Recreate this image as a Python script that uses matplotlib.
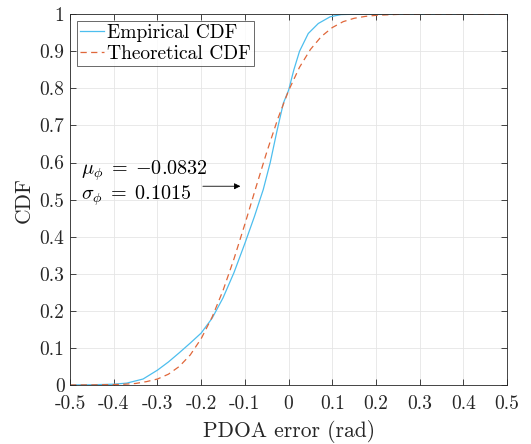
import numpy as np
import matplotlib
matplotlib.use("Agg")
import matplotlib.pyplot as plt

plt.rcParams['font.family'] = 'serif'
plt.rcParams['font.serif'] = ['cmr10']
plt.rcParams['mathtext.fontset'] = 'cm'
plt.rcParams['axes.unicode_minus'] = False
plt.rcParams['axes.formatter.use_mathtext'] = True

# empirical CDF
emp_x = [-0.5, -0.45, -0.4, -0.37, -0.333, -0.3, -0.275, -0.25, -0.225, -0.2,
         -0.175, -0.15, -0.125, -0.1, -0.078, -0.065, -0.058, -0.042, -0.027, -0.012,
         0.0, 0.012, 0.025, 0.045, 0.068, 0.095, 0.12, 0.15, 0.2, 0.3, 0.5]
emp_y = [0.0, 0.0005, 0.002, 0.005, 0.016, 0.04, 0.062, 0.087, 0.113, 0.14,
         0.18, 0.235, 0.303, 0.382, 0.455, 0.502, 0.527, 0.600, 0.683, 0.760,
         0.795, 0.850, 0.900, 0.948, 0.975, 0.993, 0.999, 1.0, 1.0, 1.0, 1.0]

# theoretical CDF
th_x = [-0.5, -0.45, -0.4, -0.375, -0.35, -0.325, -0.3, -0.275, -0.25, -0.225,
        -0.2, -0.175, -0.15, -0.125, -0.1, -0.075, -0.05, -0.025, 0.0, 0.025,
        0.05, 0.075, 0.1, 0.125, 0.15, 0.175, 0.2, 0.25, 0.3, 0.5]
th_y = [0.0, 0.0002, 0.001, 0.002, 0.004, 0.009, 0.016, 0.029, 0.050, 0.081,
        0.125, 0.183, 0.255, 0.340, 0.434, 0.532, 0.628, 0.717, 0.794, 0.857,
        0.905, 0.940, 0.964, 0.980, 0.989, 0.994, 0.997, 0.9995, 1.0, 1.0]

xticks = [-0.5, -0.4, -0.3, -0.2, -0.1, 0, 0.1, 0.2, 0.3, 0.4, 0.5]
xlabels = ['-0.5', '-0.4', '-0.3', '-0.2', '-0.1', '0', '0.1', '0.2', '0.3', '0.4', '0.5']
yticks = [0, 0.1, 0.2, 0.3, 0.4, 0.5, 0.6, 0.7, 0.8, 0.9, 1]
ylabels = ['0', '0.1', '0.2', '0.3', '0.4', '0.5', '0.6', '0.7', '0.8', '0.9', '1']

fig = plt.figure(figsize=(5.31, 4.44), dpi=100)
ax = fig.add_axes([0.132, 0.133, 0.823, 0.835])

ax.plot(emp_x, emp_y, color='#4DBEEE', lw=0.9, label='Empirical CDF')
ax.plot(th_x, th_y, color='#E0673A', lw=0.9, ls=(0, (5, 3.5)), label='Theoretical CDF')

ax.set_xlim(-0.5, 0.5)
ax.set_ylim(0, 1)
ax.set_xticks(xticks)
ax.set_xticklabels(xlabels)
ax.set_yticks(yticks)
ax.set_yticklabels(ylabels)
ax.tick_params(direction='in', top=True, right=True, length=4, width=0.6,
               labelsize=14, colors='#262626')
ax.tick_params(axis='x', pad=7)
ax.tick_params(axis='y', pad=4)
for s in ax.spines.values():
    s.set_color('#262626')
    s.set_linewidth(0.6)
ax.grid(True, color='#e5e5e5', lw=0.6)
ax.set_axisbelow(True)

ax.set_xlabel('PDOA error (rad)', fontsize=15.5, color='#262626', labelpad=5)
ax.set_ylabel('CDF', fontsize=15.5, color='#262626', labelpad=4)

ax.text(-0.474, 0.577, r'$\mu_\phi \;=\; {-}0.0832$', fontsize=14.5, va='center', ha='left')
ax.text(-0.474, 0.510, r'$\sigma_\phi \;=\; 0.1015$', fontsize=14.5, va='center', ha='left')
ax.annotate('', xy=(-0.104, 0.536), xytext=(-0.2025, 0.536),
            arrowprops=dict(arrowstyle='-|>', color='black', lw=0.6,
                            mutation_scale=9))

leg = ax.legend(loc='upper left', fontsize=14, frameon=True, fancybox=False,
                handlelength=1.25, handletextpad=0.15, borderpad=0.15,
                labelspacing=0.15, borderaxespad=0.35)
leg.get_frame().set_edgecolor('#262626')
leg.get_frame().set_linewidth(0.6)

fig.savefig('out.png', dpi=100)
